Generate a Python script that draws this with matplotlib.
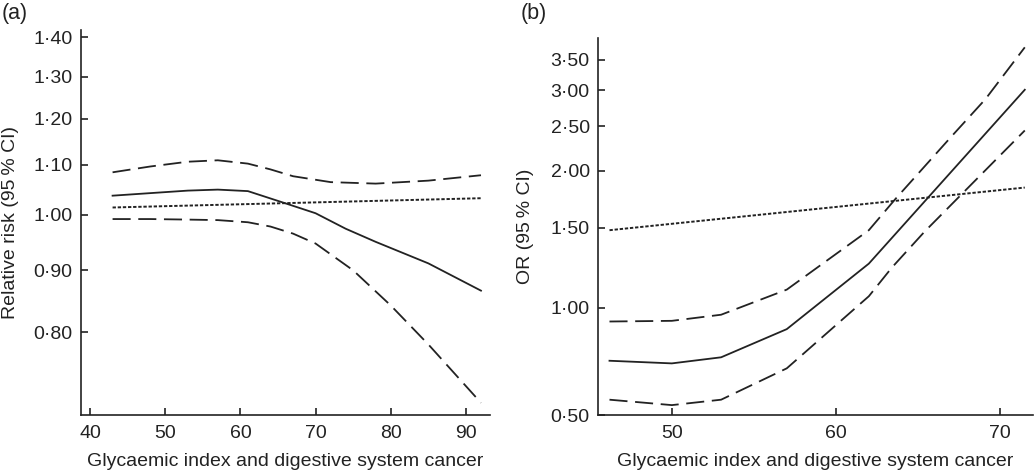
import numpy as np
import matplotlib
matplotlib.use("Agg")
import matplotlib.pyplot as plt
from matplotlib.ticker import FixedLocator, FuncFormatter

plt.rcParams['font.family'] = ['Liberation Sans', 'DejaVu Sans']
plt.rcParams['lines.scale_dashes'] = False

# ---------------- Panel (a) data ----------------
xa_upper = [43, 48, 53, 57, 61, 64, 67, 72, 78, 85, 92]
ya_upper = [1.084, 1.096, 1.106, 1.109, 1.102, 1.090, 1.076, 1.064, 1.061, 1.067, 1.078]
xa_est = [43, 48, 53, 57, 61, 66, 70, 74, 78, 85, 92]
ya_est = [1.037, 1.042, 1.047, 1.049, 1.046, 1.022, 1.003, 0.974, 0.950, 0.912, 0.866]
xa_lower = [43, 48, 53, 57, 61, 64, 67, 70, 75, 80, 85, 92]
ya_lower = [0.992, 0.992, 0.991, 0.990, 0.986, 0.978, 0.965, 0.947, 0.900, 0.842, 0.782, 0.700]
xa_lin = [43, 92]
ya_lin = [1.014, 1.032]
a_yticks = [0.80, 0.90, 1.00, 1.10, 1.20, 1.30, 1.40]
a_xticks = [40, 50, 60, 70, 80, 90]

# ---------------- Panel (b) data ----------------
xb_est = [46.2, 50, 53, 57, 62, 71.5]
yb_est = [0.710, 0.698, 0.726, 0.871, 1.25, 3.01]
xb_upper = [46.2, 50, 53, 57, 62, 63.6, 67, 69.1, 71.5]
yb_upper = [0.915, 0.919, 0.956, 1.096, 1.48, 1.73, 2.37, 2.87, 3.73]
xb_lower = [46.2, 50, 53, 57, 62, 63.4, 65.4, 71.5]
yb_lower = [0.552, 0.533, 0.552, 0.676, 1.06, 1.225, 1.47, 2.45]
xb_lin = [46.2, 71.5]
yb_lin = [1.48, 1.836]
b_yticks = [0.50, 1.00, 1.50, 2.00, 2.50, 3.00, 3.50]
b_xticks = [50, 60, 70]

xlabel = 'Glycaemic index and digestive system cancer'

col = '#222222'
dash = dict(color=col, lw=1.3, dashes=(13, 5.5))
dot = dict(color=col, lw=1.4, dashes=(2.4, 1.3))
sol = dict(color=col, lw=1.3)

fmt = FuncFormatter(lambda v, p: f'{v:.2f}'.replace('.', '\u00b7'))

fig = plt.figure(figsize=(10.35, 4.73), dpi=100)
axa = fig.add_axes([81/1035, 58/473, 409/1035, 385/473])
axb = fig.add_axes([598/1035, 58/473, 435/1035, 377/473])

for ax in (axa, axb):
    ax.spines['top'].set_visible(False)
    ax.spines['right'].set_visible(False)
    for s in ('left', 'bottom'):
        ax.spines[s].set_linewidth(1.2)
        ax.spines[s].set_color(col)
    ax.tick_params(direction='in', length=5, width=1.2, color=col,
                   labelsize=14, labelcolor=col)
    ax.tick_params(axis='y', pad=6)
    ax.tick_params(axis='x', pad=7)
    ax.tick_params(which='minor', length=0)

# Panel (a)
axa.plot(xa_upper, ya_upper, **dash)
axa.plot(xa_est, ya_est, **sol)
axa.plot(xa_lower, ya_lower, **dash)
axa.plot(xa_lin, ya_lin, **dot)
axa.set_yscale('log')
axa.set_ylim(0.684, 1.42)
axa.set_xlim(38.8, 93.2)
axa.yaxis.set_major_locator(FixedLocator(a_yticks))
axa.yaxis.set_minor_locator(FixedLocator([]))
axa.yaxis.set_major_formatter(fmt)
axa.set_xticks(a_xticks)
axa.set_xlabel(xlabel, fontsize=14, color=col, labelpad=8)
axa.set_ylabel('Relative risk (95\u2009% CI)', fontsize=14, color=col)
axa.yaxis.set_label_coords(-0.152, 0.5)

# Panel (b): log scale, compressed below 1
k = 0.782
def fwd(y):
    y = np.clip(np.asarray(y, dtype=float), 1e-6, None)
    l = np.log(y)
    return np.where(l >= 0, l, k * l)
def inv(u):
    u = np.asarray(u, dtype=float)
    return np.where(u >= 0, np.exp(u), np.exp(u / k))

axb.set_yscale('function', functions=(fwd, inv))
axb.plot(xb_upper, yb_upper, **dash)
axb.plot(xb_est, yb_est, **sol)
axb.plot(xb_lower, yb_lower, **dash)
axb.plot(xb_lin, yb_lin, **dot)
axb.set_ylim(0.50, 3.91)
axb.set_xlim(45.5, 72.0)
axb.yaxis.set_major_locator(FixedLocator(b_yticks))
axb.yaxis.set_minor_locator(FixedLocator([]))
axb.yaxis.set_major_formatter(fmt)
axb.set_xticks(b_xticks)
axb.set_xlabel(xlabel, fontsize=14, color=col, labelpad=8)
axb.set_ylabel('OR (95\u2009% CI)', fontsize=14, color=col)
axb.yaxis.set_label_coords(-0.146, 0.5)

fig.text(2/1035, 1 - 3/473, '(a)', fontsize=15.5, color=col, va='top', ha='left')
fig.text(521/1035, 1 - 3/473, '(b)', fontsize=15.5, color=col, va='top', ha='left')

fig.savefig('out.png', dpi=100)
